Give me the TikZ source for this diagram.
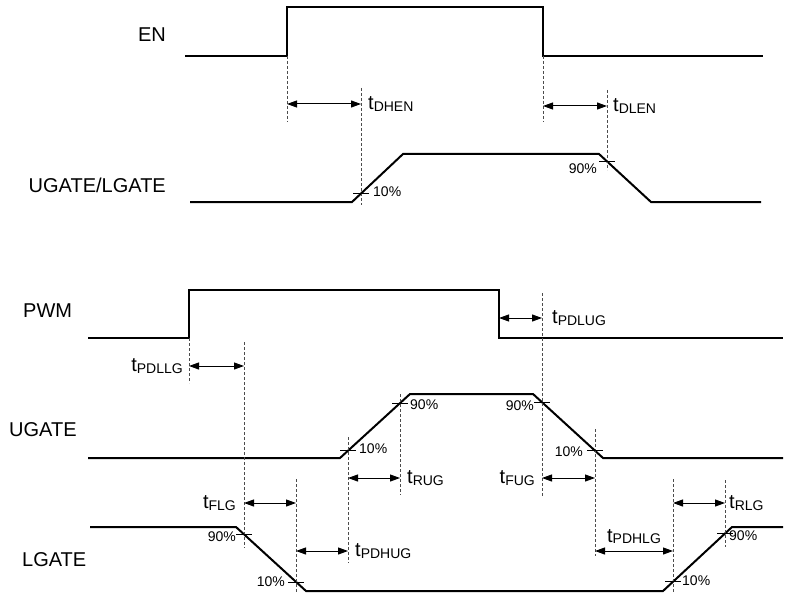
\documentclass[tikz,border=0pt]{standalone}
\usepackage{fontspec}
\setmainfont{Liberation Sans}
\usetikzlibrary{arrows.meta}
\newcommand\tlab[1]{t\raisebox{-1.5pt}{\fontsize{14}{16}\selectfont #1}}
\begin{document}
\begin{tikzpicture}[x=1pt,y=-1pt,
  sig/.style={line width=2pt,line join=miter},
  guide/.style={dash pattern=on 3pt off 2pt,line width=0.9pt,draw=black!70},
  dim/.style={line width=1pt,{Triangle[length=10pt,width=7pt]}-{Triangle[length=10pt,width=7pt]}},
  tickm/.style={line width=0.9pt},
  lbl/.style={font=\fontsize{20}{24}\selectfont,inner sep=0pt},
  pct/.style={font=\fontsize{14}{16}\selectfont,inner sep=0pt}]
\useasboundingbox (0,0) rectangle (786,596);

% ---------- signal labels
\node[lbl,anchor=east] (lEN) at (166,34.5) {EN};
\node[lbl,anchor=east] (lUL) at (166,185) {UGATE/LGATE};
\node[lbl,anchor=west] (lPWM) at (23,311) {PWM};
\node[lbl,anchor=west] (lUG) at (9,430) {UGATE};
\node[lbl,anchor=west] (lLG) at (22,560) {LGATE};

% ---------- EN
\coordinate (en0) at (185,56);
\coordinate (en1) at (287,56);
\coordinate (en2) at (287,7.5);
\coordinate (en3) at (543,7.5);
\coordinate (en4) at (543,56);
\coordinate (en5) at (763,56);
\draw[sig] (en0) -- (en1) -- (en2) -- (en3) -- (en4) -- (en5);

% ---------- UGATE/LGATE
\coordinate (ul0) at (190,202);
\coordinate (ul1) at (352,202);
\coordinate (ul2) at (403,154);
\coordinate (ul3) at (599,154);
\coordinate (ul4) at (651,202);
\coordinate (ul5) at (761,202);
\draw[sig] (ul0) -- (ul1) -- (ul2) -- (ul3) -- (ul4) -- (ul5);

% ---------- PWM
\coordinate (pw0) at (88,338);
\coordinate (pw1) at (189,338);
\coordinate (pw2) at (189,290);
\coordinate (pw3) at (499,290);
\coordinate (pw4) at (499,338);
\coordinate (pw5) at (783,338);
\draw[sig] (pw0) -- (pw1) -- (pw2) -- (pw3) -- (pw4) -- (pw5);

% ---------- UGATE
\coordinate (ug0) at (88,458);
\coordinate (ug1) at (340,458);
\coordinate (ug2) at (410,394);
\coordinate (ug3) at (533,394);
\coordinate (ug4) at (603,458);
\coordinate (ug5) at (783,458);
\draw[sig] (ug0) -- (ug1) -- (ug2) -- (ug3) -- (ug4) -- (ug5);

% ---------- LGATE
\coordinate (lg0) at (90,527);
\coordinate (lg1) at (236,527);
\coordinate (lg2) at (306,591);
\coordinate (lg3) at (663,591);
\coordinate (lg4) at (732,527);
\coordinate (lg5) at (783,527);
\draw[sig] (lg0) -- (lg1) -- (lg2) -- (lg3) -- (lg4) -- (lg5);

% ---------- dashed guide lines
\coordinate (gA1) at (287,56);  \coordinate (gA2) at (287,122);
\coordinate (gB1) at (361,88);  \coordinate (gB2) at (361,205);
\coordinate (gC1) at (543,56);  \coordinate (gC2) at (543,122);
\coordinate (gD1) at (607,90);  \coordinate (gD2) at (607,170);
\coordinate (gE1) at (189,338); \coordinate (gE2) at (189,383);
\coordinate (gF1) at (244,342); \coordinate (gF2) at (244,548);
\coordinate (gG1) at (296,479); \coordinate (gG2) at (296,593);
\coordinate (gH1) at (348,437); \coordinate (gH2) at (348,563);
\coordinate (gI1) at (400,394); \coordinate (gI2) at (400,495);
\coordinate (gJ1) at (542,293); \coordinate (gJ2) at (542,497);
\coordinate (gK1) at (595,429); \coordinate (gK2) at (595,556);
\coordinate (gL1) at (673,479); \coordinate (gL2) at (673,593);
\coordinate (gM1) at (725,480); \coordinate (gM2) at (725,547);
\foreach \g in {A,B,C,D,E,F,G,H,I,J,K,L,M}
  \draw[guide] (g\g1) -- (g\g2);

% ---------- dimension arrows
\coordinate (dA1) at (287,104); \coordinate (dA2) at (361,104);
\coordinate (dB1) at (543,106); \coordinate (dB2) at (607,106);
\coordinate (dC1) at (189,366); \coordinate (dC2) at (244,366);
\coordinate (dD1) at (499,318); \coordinate (dD2) at (542,318);
\coordinate (dE1) at (244,503); \coordinate (dE2) at (296,503);
\coordinate (dF1) at (296,551); \coordinate (dF2) at (348,551);
\coordinate (dG1) at (348,478); \coordinate (dG2) at (400,478);
\coordinate (dH1) at (542,478); \coordinate (dH2) at (595,478);
\coordinate (dI1) at (595,551); \coordinate (dI2) at (673,551);
\coordinate (dJ1) at (673,503); \coordinate (dJ2) at (725,503);
\foreach \d in {A,B,C,D,E,F,G,H,I,J}
  \draw[dim] (d\d1) -- (d\d2);

% ---------- timing labels
\node[lbl,anchor=west] (tDHEN) at (368,104) {\tlab{DHEN}};
\node[lbl,anchor=west] (tDLEN) at (613,106) {\tlab{DLEN}};
\node[lbl,anchor=east] (tPDLLG) at (183,366) {\tlab{PDLLG}};
\node[lbl,anchor=west] (tPDLUG) at (552,318) {\tlab{PDLUG}};
\node[lbl,anchor=east] (tFLG) at (236,503) {\tlab{FLG}};
\node[lbl,anchor=west] (tPDHUG) at (355,551) {\tlab{PDHUG}};
\node[lbl,anchor=west] (tRUG) at (407,478) {\tlab{RUG}};
\node[lbl,anchor=east] (tFUG) at (535,478) {\tlab{FUG}};
\node[lbl,anchor=south] (tPDHLG) at (634,544) {\tlab{PDHLG}};
\node[lbl,anchor=west] (tRLG) at (729,503) {\tlab{RLG}};

% ---------- threshold ticks
\coordinate (k1) at (361,193.5);
\coordinate (k2) at (607,161.4);
\coordinate (k3) at (348,450.7);
\coordinate (k4) at (400,403);
\coordinate (k5) at (542,402.2);
\coordinate (k6) at (595,450.7);
\coordinate (k7) at (244,534.3);
\coordinate (k8) at (296,582);
\coordinate (k9) at (673,581.7);
\coordinate (k10) at (725,533.5);
\foreach \k in {1,...,10}
  \draw[tickm] (k\k) ++(-8,0) -- ++(16,0);

% ---------- percent labels
\node[pct,anchor=west] (p1) at (373,192) {10\%};
\node[pct,anchor=east] (p2) at (597,169) {90\%};
\node[pct,anchor=west] (p3) at (359,449) {10\%};
\node[pct,anchor=west] (p4) at (410,405) {90\%};
\node[pct,anchor=east] (p5) at (534,406) {90\%};
\node[pct,anchor=east] (p6) at (583,452) {10\%};
\node[pct,anchor=east] (p7) at (236,537) {90\%};
\node[pct,anchor=east] (p8) at (285,582) {10\%};
\node[pct,anchor=west] (p9) at (682,581) {10\%};
\node[pct,anchor=west] (p10) at (729,536) {90\%};
\end{tikzpicture}
\end{document}
